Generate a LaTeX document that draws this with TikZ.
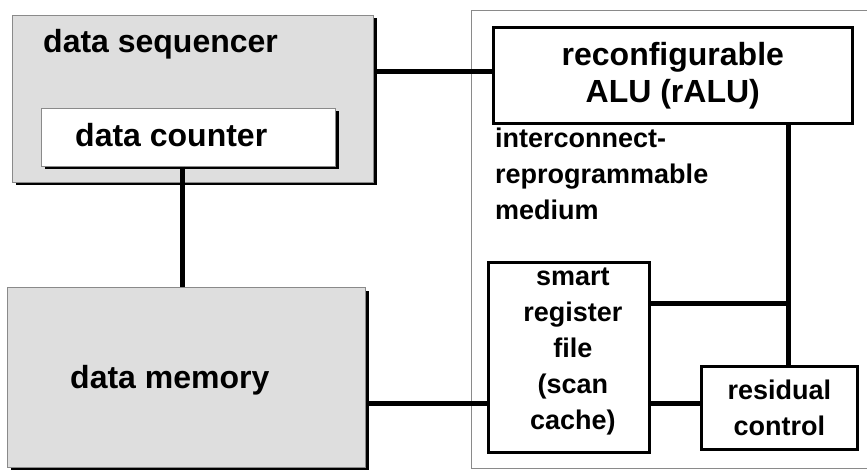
\documentclass[tikz,border=0pt]{standalone}
\usepackage{fontspec}
\setmainfont{Liberation Sans}
\usetikzlibrary{shadows}
\definecolor{BoxGray}{HTML}{DEDEDE}
\definecolor{EdgeGray}{HTML}{8A8A8A}
\newcommand\bigtxt{\fontsize{32}{37}\selectfont\bfseries}
\newcommand\midtxt{\fontsize{27}{36}\selectfont\bfseries}
\tikzset{
  graybox/.style={
    draw=EdgeGray, line width=1pt, fill=BoxGray, inner sep=0pt,
    drop shadow={fill=black, opacity=1, shadow xshift=3pt, shadow yshift=-3pt}
  },
  whitebox/.style={graybox, fill=white},
  blockbox/.style={
    draw=black, line width=2.6pt, fill=white, inner sep=0pt,
    align=center
  },
  frame/.style={draw=EdgeGray, line width=1pt, inner sep=0pt},
  lbl/.style={inner sep=0pt},
  wire/.style={line width=4.5pt}
}
\begin{document}
\begin{tikzpicture}[x=1pt,y=-1pt]
  \useasboundingbox (0,0) rectangle (867,470);
  % left side: sequencer with its counter, memory below
  \node[graybox,anchor=north west,minimum width=361pt,minimum height=167pt] (seq) at (12,15) {};
  \node[whitebox,anchor=north west,minimum width=294pt,minimum height=58pt] (counter) at (41,108) {};
  \node[graybox,anchor=north west,minimum width=358pt,minimum height=180pt] (memory) at (7,287) {};
  \node[lbl,font=\bigtxt,anchor=base west] (seqtext) at (43,53) {data sequencer};
  \node[lbl,font=\bigtxt,anchor=base west] (countertext) at (75,147) {data counter};
  \node[lbl,font=\bigtxt,anchor=base west] (memorytext) at (70,388) {data memory};

  % right side: the medium and its blocks
  \node[frame,anchor=north west,minimum width=401pt,minimum height=458pt] (medium) at (471,10) {};
  \node[lbl,font=\midtxt,align=left,anchor=north west] (mediumtext) at (495,128)
    {interconnect-\\reprogrammable\\medium};
  \node[blockbox,font=\bigtxt,anchor=north west,minimum width=359pt,minimum height=96pt] (ralu) at (492,26)
    {reconfigurable\\ALU (rALU)};
  \node[blockbox,anchor=north west,minimum width=161pt,minimum height=190pt] (srf) at (487,261) {};
  \node[lbl,font=\midtxt,align=center] (srftext) at ([xshift=4pt,yshift=6pt]srf.center)
    {smart\\register\\file\\(scan\\cache)};
  \node[blockbox,font=\midtxt,anchor=north west,minimum width=156pt,minimum height=83pt] (resid) at (700,365)
    {residual\\control};

  % connections
  \coordinate (aluin) at ([yshift=4pt]ralu.west);
  \coordinate (cntout) at ([xshift=-6pt]counter.south);
  \coordinate (memout) at ([yshift=-26pt]memory.east);
  \coordinate (bus) at ([xshift=9pt]resid.north);
  \coordinate (srfout) at ([yshift=54pt]srf.east);
  \draw[wire] (aluin) -- (aluin -| seq.east);
  \draw[wire] (cntout) -- (cntout |- memory.north);
  \draw[wire] (memout) -- (memout -| srf.west);
  \draw[wire] (memout -| srf.east) -- (memout -| resid.west);
  \draw[wire] (bus) -- (bus |- ralu.south);
  \draw[wire] (srfout) -- (srfout -| bus);
\end{tikzpicture}
\end{document}
